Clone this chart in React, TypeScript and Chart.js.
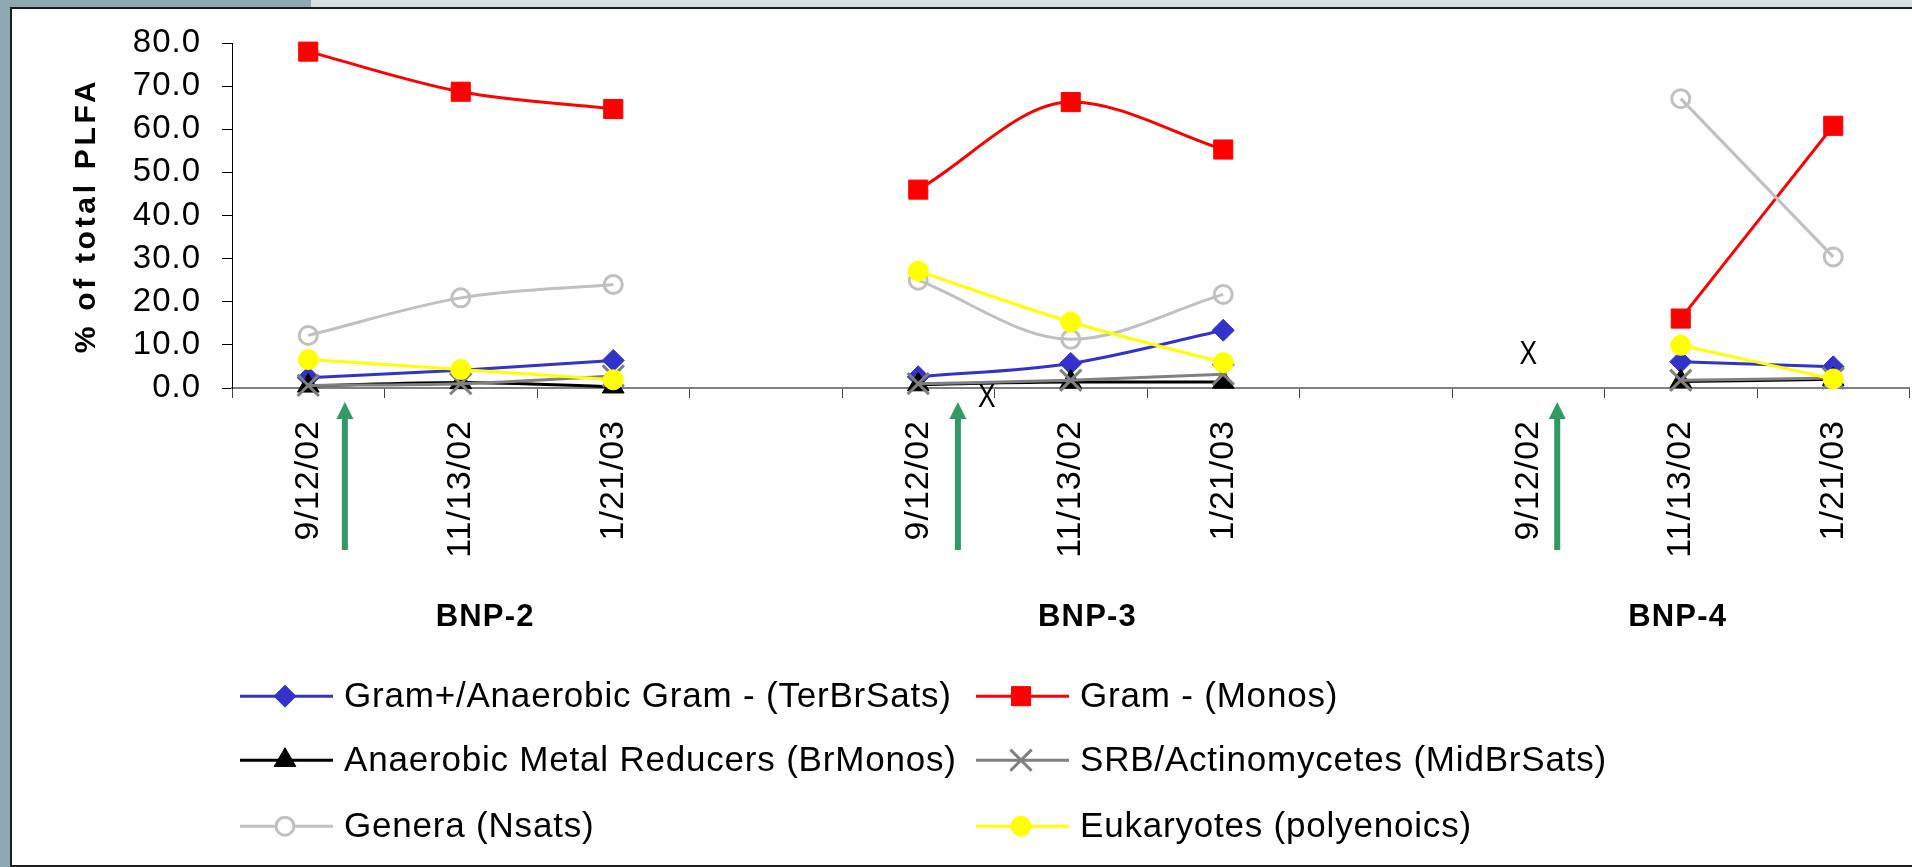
import React, { useEffect, useRef } from 'react';
import { Chart, registerables } from 'chart.js';

Chart.register(...registerables);

// ---------- data ----------
const categories = [
  '9/12/02', '11/13/02', '1/21/03', '',
  '9/12/02', '11/13/02', '1/21/03', '',
  '9/12/02', '11/13/02', '1/21/03',
];
const groupLabels = ['BNP-2', 'BNP-3', 'BNP-4'];
const seriesNames = [
  'Gram+/Anaerobic Gram - (TerBrSats)',
  'Gram - (Monos)',
  'Anaerobic Metal Reducers (BrMonos)',
  'SRB/Actinomycetes (MidBrSats)',
  'Genera (Nsats)',
  'Eukaryotes (polyenoics)',
];
const gramPositive = [2.4, 4.1, 6.4, null, 2.6, 5.7, 13.4, null, null, 6.1, 4.9];
const gramNegative = [78.0, 68.7, 64.7, null, 46.0, 66.3, 55.3, null, null, 16.1, 60.8];
const metalReducers = [0.5, 1.3, 0.3, null, 0.8, 1.4, 1.4, null, null, 1.5, 2.0];
const srbActino = [0.6, 1.0, 2.8, null, 1.0, 1.8, 3.2, null, null, 1.8, 2.3];
const genera = [12.2, 20.9, 24.0, null, 25.0, 11.3, 21.7, null, null, 67.1, 30.4];
const eukaryotes = [6.6, 4.3, 1.9, null, 27.1, 15.3, 5.9, null, null, 9.9, 2.1];
const yMin = 0;
const yMax = 80;
const yStep = 10;

// ---------- annotation placement (category index units) ----------
const groupLabelAt = [1.16, 5.11, 8.98];
const arrowAt = [0.24, 4.26, 8.19];
const missingMarks = [
  { at: 4.45, below: 9.5 },
  { at: 8.0, value: 7.6 },
];

const SANS = "'Liberation Sans', Arial, sans-serif";

function drawMarker(ctx: CanvasRenderingContext2D, style: string, x: number, y: number, r: number,
  fill: string, stroke: string, lw: number) {
  ctx.save();
  ctx.beginPath();
  if (style === 'rect') {
    const s = r * Math.SQRT1_2;
    ctx.rect(x - s, y - s, 2 * s, 2 * s);
  } else if (style === 'rectRot') {
    ctx.moveTo(x, y - r); ctx.lineTo(x + r, y); ctx.lineTo(x, y + r); ctx.lineTo(x - r, y); ctx.closePath();
  } else if (style === 'triangle') {
    ctx.moveTo(x, y - r);
    ctx.lineTo(x + r * Math.sin(2 * Math.PI / 3), y - r * Math.cos(2 * Math.PI / 3));
    ctx.lineTo(x + r * Math.sin(4 * Math.PI / 3), y - r * Math.cos(4 * Math.PI / 3));
    ctx.closePath();
  } else if (style === 'crossRot') {
    const d = r * Math.SQRT1_2;
    ctx.moveTo(x - d, y - d); ctx.lineTo(x + d, y + d);
    ctx.moveTo(x + d, y - d); ctx.lineTo(x - d, y + d);
  } else {
    ctx.arc(x, y, r, 0, Math.PI * 2);
  }
  if (style !== 'crossRot') { ctx.fillStyle = fill; ctx.fill(); }
  ctx.lineWidth = lw;
  ctx.strokeStyle = stroke;
  ctx.stroke();
  ctx.restore();
}

const spacingPlugin = {
  id: 'tickSpacing',
  beforeUpdate(chart: any) { chart.ctx.letterSpacing = '1px'; },
  beforeDraw(chart: any) { chart.ctx.letterSpacing = '1px'; },
};

const decorPlugin = {
  id: 'decor',
  afterDraw(chart: any) {
    const ctx: CanvasRenderingContext2D = chart.ctx;
    const area = chart.chartArea;
    const xs = chart.scales.x;
    const ys = chart.scales.y;
    ctx.save();
    ctx.fillStyle = '#000';

    // y-axis title
    ctx.save();
    (ctx as any).letterSpacing = '3.7px';
    ctx.font = `bold 30px ${SANS}`;
    ctx.translate(area.left - 145, (area.top + area.bottom) / 2);
    ctx.rotate(-Math.PI / 2);
    ctx.textAlign = 'center';
    ctx.textBaseline = 'middle';
    ctx.fillText('% of total PLFA', 0, 0);
    ctx.restore();

    // group labels
    ctx.save();
    (ctx as any).letterSpacing = '1.2px';
    ctx.font = `bold 31px ${SANS}`;
    ctx.textAlign = 'center';
    ctx.textBaseline = 'middle';
    groupLabels.forEach((g, i) => {
      ctx.fillText(g, xs.getPixelForValue(groupLabelAt[i]), area.bottom + 229);
    });
    ctx.restore();

    // green arrows
    ctx.save();
    ctx.fillStyle = '#339966';
    arrowAt.forEach((a) => {
      const x = xs.getPixelForValue(a);
      const tip = area.bottom + 14;
      const end = area.bottom + 162;
      ctx.beginPath();
      ctx.moveTo(x, tip);
      ctx.lineTo(x + 8.5, tip + 17);
      ctx.lineTo(x - 8.5, tip + 17);
      ctx.closePath();
      ctx.fill();
      ctx.fillRect(x - 3, tip + 16, 6, end - tip - 16);
    });
    ctx.restore();

    // missing-sample marks
    ctx.save();
    (ctx as any).letterSpacing = '0px';
    ctx.font = `33px ${SANS}`;
    ctx.textAlign = 'center';
    ctx.textBaseline = 'middle';
    missingMarks.forEach((m: any) => {
      const x = xs.getPixelForValue(m.at);
      const y = m.value !== undefined ? ys.getPixelForValue(m.value) : area.bottom + m.below;
      ctx.save();
      ctx.translate(x, y);
      ctx.scale(0.8, 1);
      ctx.fillText('X', 0, 0);
      ctx.restore();
    });
    ctx.restore();

    // legend (two columns)
    ctx.save();
    (ctx as any).letterSpacing = '0.8px';
    ctx.font = `35px ${SANS}`;
    ctx.textAlign = 'left';
    ctx.textBaseline = 'alphabetic';
    const colX = [240, 976];
    const baseY = [706.7, 770.7, 836.7];
    chart.data.datasets.forEach((ds: any, i: number) => {
      const col = i % 2;
      const row = Math.floor(i / 2);
      const x0 = colX[col];
      const ly = baseY[row] - 10.5;
      const mx = x0 + 45;
      ctx.strokeStyle = ds.borderColor;
      ctx.lineWidth = 3;
      ctx.beginPath();
      if (ds.pointStyle === 'circle' && ds.pointBackgroundColor === 'rgba(0,0,0,0)') {
        ctx.moveTo(x0, ly); ctx.lineTo(mx - ds.pointRadius, ly);
        ctx.moveTo(mx + ds.pointRadius, ly); ctx.lineTo(x0 + 93, ly);
      } else {
        ctx.moveTo(x0, ly); ctx.lineTo(x0 + 93, ly);
      }
      ctx.stroke();
      drawMarker(ctx, ds.pointStyle, mx, ly, ds.pointRadius,
        ds.pointBackgroundColor, ds.pointBorderColor, ds.pointBorderWidth);
      ctx.fillStyle = '#000';
      ctx.fillText(ds.label, x0 + 104, baseY[row]);
    });
    ctx.restore();

    ctx.restore();
  },
};

function makeDataset(label: string, data: (number | null)[], color: string, style: string,
  radius: number, order: number, extra: any = {}) {
  return {
    label,
    data,
    borderColor: color,
    backgroundColor: color,
    borderWidth: 3,
    pointStyle: style,
    pointRadius: radius,
    pointHoverRadius: radius,
    pointBackgroundColor: color,
    pointBorderColor: color,
    pointBorderWidth: 1,
    cubicInterpolationMode: 'monotone',
    clip: false,
    order,
    ...extra,
  };
}

export default function App() {
  const canvasRef = useRef<HTMLCanvasElement | null>(null);

  useEffect(() => {
    if (!canvasRef.current) return;
    Chart.defaults.color = '#000';
    const chart = new Chart(canvasRef.current, {
      type: 'line',
      data: {
        labels: categories,
        datasets: [
          makeDataset(seriesNames[0], gramPositive, '#3333CC', 'rectRot', 11, 6),
          makeDataset(seriesNames[1], gramNegative, '#FF0000', 'rect', 13.5, 5),
          makeDataset(seriesNames[2], metalReducers, '#000000', 'triangle', 12.5, 4),
          makeDataset(seriesNames[3], srbActino, '#808080', 'crossRot', 15, 3, { pointBorderWidth: 3 }),
          makeDataset(seriesNames[4], genera, '#C0C0C0', 'circle', 9, 2,
            { pointBackgroundColor: 'rgba(0,0,0,0)', pointBorderWidth: 3 }),
          makeDataset(seriesNames[5], eukaryotes, '#FFFF00', 'circle', 10, 1),
        ] as any,
      },
      options: {
        responsive: false,
        animation: false,
        events: [],
        layout: { autoPadding: false, padding: { left: 0, top: 43, right: 2.5, bottom: 279 } },
        plugins: { legend: { display: false }, tooltip: { enabled: false }, title: { display: false } },
        scales: {
          x: {
            type: 'category',
            offset: true,
            grid: { offset: true, drawOnChartArea: false, drawTicks: true, tickLength: 10, tickColor: '#444', tickWidth: 1 },
            border: { color: '#808080', width: 2 },
            ticks: {
              autoSkip: false, maxRotation: 90, minRotation: 90, padding: 22, color: '#000',
              font: { family: SANS, size: 34 },
            },
            afterFit(scale: any) {
              scale.height = 200;
              scale.paddingLeft = 0;
              scale.paddingRight = 0;
            },
          },
          y: {
            min: yMin,
            max: yMax,
            grid: { drawOnChartArea: false, drawTicks: true, tickLength: 10, tickColor: '#000', tickWidth: 1 },
            border: { color: '#000', width: 1 },
            ticks: {
              stepSize: yStep, padding: 21, color: '#000',
              font: { family: SANS, size: 33 },
              callback: (v: any) => Number(v).toFixed(1),
            },
            afterFit(scale: any) { scale.width = 232; },
          },
        },
      },
      plugins: [spacingPlugin, decorPlugin],
    } as any);
    return () => chart.destroy();
  }, []);

  return (
    <div style={{ position: 'fixed', left: 0, top: 0, width: 1912, height: 867, background: '#8EA9B0', overflow: 'hidden' }}>
      <div style={{ position: 'absolute', left: 311, top: 0, right: 0, height: 9, background: '#D4DFE2' }} />
      <div style={{
        position: 'absolute', left: 10, top: 7, width: 1902, height: 860, background: '#fff',
        borderTop: '2px solid #1e1e1e', borderLeft: '2px solid #1e1e1e', borderBottom: '2px solid #1e1e1e',
        boxSizing: 'border-box',
      }} />
      <canvas ref={canvasRef} width={1912} height={867}
        style={{ position: 'absolute', left: 0, top: 0, width: 1912, height: 867, display: 'block' }} />
    </div>
  );
}
